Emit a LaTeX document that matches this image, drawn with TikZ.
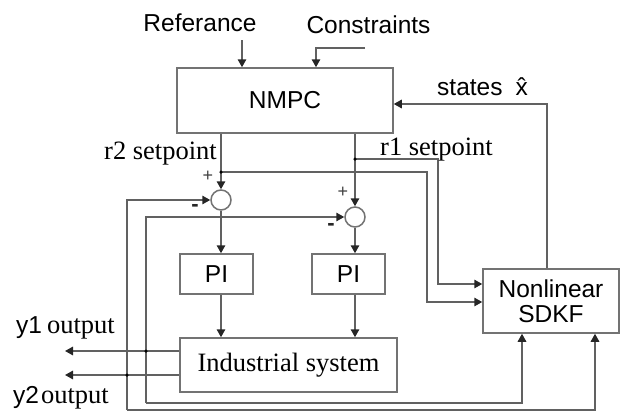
\documentclass[tikz,border=0pt]{standalone}
\usepackage{fontspec}
\setmainfont{Liberation Serif}
\setsansfont{Liberation Sans}
\usetikzlibrary{arrows.meta}
\begin{document}
\begin{tikzpicture}[x=1pt,y=-1pt,
  ln/.style={draw=black!62, line width=1.5pt},
  arr/.style={ln, -{Triangle[length=8pt,width=8.5pt,fill=black!85,color=black!85]}},
  blk/.style={draw=black!55, line width=1.5pt, rectangle, inner sep=0pt, fill=white},
  sanslbl/.style={font=\sffamily\fontsize{24.5}{25}\selectfont, inner sep=0pt},
  seriflbl/.style={font=\rmfamily\fontsize{26.5}{28}\selectfont, inner sep=0pt},
  sumc/.style={circle, draw=black!55, line width=1.5pt, minimum size=20pt, inner sep=0pt},
  jdot/.style={circle, fill=black, minimum size=3.5pt, inner sep=0pt},
  plussgn/.style={font=\sffamily\fontsize{18}{18}\selectfont, inner sep=0pt, text=black!75},
  minsgn/.style={font=\sffamily\bfseries\fontsize{22}{22}\selectfont, inner sep=0pt, text=black!85}]
\useasboundingbox (0,0) rectangle (622,413);
% blocks
\node[blk, sanslbl, minimum width=216pt, minimum height=65pt] (nmpc) at (285,100.5) {NMPC};
\node[blk, sanslbl, minimum width=73pt, minimum height=40pt] (pi1) at (216.5,274) {PI};
\node[blk, sanslbl, minimum width=73pt, minimum height=40pt] (pi2) at (348.5,274) {PI};
\node[blk, seriflbl, minimum width=217pt, minimum height=54pt] (ind) at (288.5,365) {Industrial system};
\node[blk, sanslbl, minimum width=136pt, minimum height=64pt, align=center] (sdkf) at (551,301) {Nonlinear\\SDKF};
\node[sumc] (c1) at (221,200) {};
\node[sumc] (c2) at (355,217) {};
% top inputs
\node[sanslbl, anchor=base] (ref) at (200,31) {Referance};
\node[sanslbl, anchor=base] (cons) at (368.5,33) {Constraints};
\coordinate (refs) at (242,40);
\draw[arr] (refs) -- (refs |- nmpc.north);
\coordinate (conss) at (365,48);
\coordinate (consb) at (316,48);
\draw[arr] (conss) -- (consb) -- (consb |- nmpc.north);
% states feedback
\coordinate (stx) at (547,104);
\draw[arr] (stx |- sdkf.north) -- (stx) -- (stx -| nmpc.east);
\node[sanslbl, anchor=base west] (states) at (437,95) {states\hspace{13pt}x̂};
% setpoints
\draw[arr] (c1 |- nmpc.south) -- (c1.north);
\draw[arr] (c2 |- nmpc.south) -- (c2.north);
\coordinate (r2d) at (221,172);
\coordinate (r2c) at (427,172);
\coordinate (r2e) at (427,302);
\draw[arr] (r2d) -- (r2c) -- (r2e) -- (r2e -| sdkf.west);
\coordinate (r1d) at (355,159);
\coordinate (r1c) at (438,159);
\coordinate (r1e) at (438,284);
\draw[arr] (r1d) -- (r1c) -- (r1e) -- (r1e -| sdkf.west);
\node[jdot] (j2) at (r2d) {};
\node[jdot] (j1) at (r1d) {};
\node[seriflbl, anchor=east] (r2l) at (217,154) {r2 setpoint};
\node[seriflbl, anchor=west] (r1l) at (380,149.5) {r1 setpoint};
% signs
\node[plussgn] (p1) at (208,176) {+};
\node[minsgn] (m1) at (195,208) {-};
\node[plussgn] (p2) at (343,192) {+};
\node[minsgn] (m2) at (331,227) {-};
% forward path
\draw[arr] (c1.south) -- (c1.south |- pi1.north);
\draw[arr] (c1 |- pi1.south) -- (c1 |- ind.north);
\draw[arr] (c2.south) -- (c2.south |- pi2.north);
\draw[arr] (c2 |- pi2.south) -- (c2 |- ind.north);
% outputs
\coordinate (y1e) at (65,351);
\coordinate (y2e) at (65,375);
\draw[arr] (y1e -| ind.west) -- (y1e);
\draw[arr] (y2e -| ind.west) -- (y2e);
\node[inner sep=0pt, anchor=base west] (y1l) at (16,333) {\sffamily\fontsize{24.5}{25}\selectfont y1\hspace{5pt}\rmfamily\fontsize{26.5}{28}\selectfont output};
\node[inner sep=0pt, anchor=base west] (y2l) at (13,403) {\sffamily\fontsize{24.5}{25}\selectfont y2\hspace{2pt}\rmfamily\fontsize{26.5}{28}\selectfont output};
% feedback loops
\coordinate (f2t) at (127,200);
\coordinate (f2b) at (127,410);
\coordinate (f2r) at (595,410);
\draw[arr] (f2b) -- (f2t) -- (c1.west);
\draw[arr] (f2b) -- (f2r) -- (f2r |- sdkf.south);
\coordinate (f1t) at (146,217);
\coordinate (f1b) at (146,403);
\coordinate (f1r) at (522,403);
\draw[arr] (f1b) -- (f1t) -- (c2.west);
\draw[arr] (f1b) -- (f1r) -- (f1r |- sdkf.south);
\node[jdot] (j3) at (y1e -| f1t) {};
\node[jdot] (j4) at (y2e -| f2t) {};
\end{tikzpicture}
\end{document}
